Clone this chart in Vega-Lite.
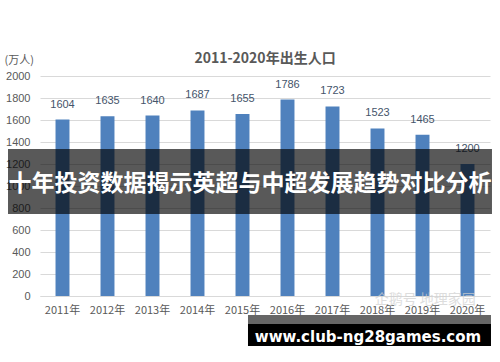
{
  "$schema": "https://vega.github.io/schema/vega-lite/v6.json",
  "width": 450,
  "height": 220,
  "autosize": "none",
  "padding": {"left": 40, "top": 76, "right": 10, "bottom": 66},
  "background": "white",
  "config": {"view": {"stroke": null}, "font": "Noto Sans CJK SC"},
  "title": {"text": "2011-2020年出生人口", "fontSize": 14, "fontWeight": "bold", "color": "#595959", "offset": -12, "font": "Noto Sans CJK SC"},
  "datasets": {
    "births": [
      {"year": "2011年", "value": 1604},
      {"year": "2012年", "value": 1635},
      {"year": "2013年", "value": 1640},
      {"year": "2014年", "value": 1687},
      {"year": "2015年", "value": 1655},
      {"year": "2016年", "value": 1786},
      {"year": "2017年", "value": 1723},
      {"year": "2018年", "value": 1523},
      {"year": "2019年", "value": 1465},
      {"year": "2020年", "value": 1200}
    ],
    "boxes": [
      {"name": "banner", "x1": -0.711, "x2": 10.044, "y1": 1336, "y2": 745, "color": "#000000", "op": 0.65},
      {"name": "urlstrip", "x1": 4.622, "x2": 10.022, "y1": -173, "y2": -255, "color": "#666666", "op": 1},
      {"name": "urlbox", "x1": 4.622, "x2": 10.022, "y1": -255, "y2": -455, "color": "#000000", "op": 1}
    ],
    "texts": [
      {"label": "十年投资数据揭示英超与中超发展趋势对比分析", "x": 4.667, "y": 1018, "kind": "banner"},
      {"label": "www.club-ng28games.com", "x": 7.289, "y": -373, "kind": "url"}
    ],
    "marks": [
      {"label": "企鹅号 地理家园", "x": 8.56, "y": -36}
    ]
  },
  "layer": [
    {
      "data": {"name": "births"},
      "encoding": {
        "x": {"field": "year", "type": "nominal", "sort": null,
          "scale": {"paddingInner": 0.69, "paddingOuter": 0.345},
          "axis": {"title": null, "labelAngle": 0, "labelColor": "#595959", "labelFontSize": 11, "labelPadding": 8, "ticks": false, "domainColor": "#d9d9d9", "labelFont": "Noto Sans CJK SC"}},
        "y": {"field": "value", "type": "quantitative",
          "scale": {"domain": [0, 2000], "nice": false},
          "axis": {"values": [0, 200, 400, 600, 800, 1000, 1200, 1400, 1600, 1800, 2000], "format": "d", "labelOverlap": false, "domain": false, "ticks": false, "gridColor": "#d9d9d9", "labelColor": "#595959", "labelFontSize": 11, "labelPadding": 10, "labelFont": "Liberation Sans",
            "title": "(万人)", "titleAngle": 0, "titleAlign": "left", "titleBaseline": "middle", "titleX": -36, "titleY": -16, "titleFontWeight": "normal", "titleColor": "#595959", "titleFontSize": 11}}
      },
      "layer": [
        {"mark": {"type": "bar", "color": "#4f81bd"}},
        {"mark": {"type": "text", "dy": -10, "color": "#44546a", "fontSize": 11, "baseline": "bottom", "font": "Liberation Sans"}, "encoding": {"text": {"field": "value"}}}
      ]
    },
    {
      "encoding": {
        "y": {"field": "y", "type": "quantitative",
          "axis": {"values": [0, 200, 400, 600, 800, 1000, 1200, 1400, 1600, 1800, 2000], "format": "d", "labelOverlap": false, "domain": false, "ticks": false, "gridColor": "#d9d9d9", "labelColor": "#595959", "labelFontSize": 11, "labelPadding": 10, "labelFont": "Liberation Sans",
            "title": "(万人)", "titleAngle": 0, "titleAlign": "left", "titleBaseline": "middle", "titleX": -36, "titleY": -16, "titleFontWeight": "normal", "titleColor": "#595959", "titleFontSize": 11}}
      },
      "layer": [
        {
          "data": {"name": "boxes"},
          "mark": {"type": "rect"},
          "encoding": {
            "x": {"field": "x1", "type": "quantitative", "scale": {"domain": [0, 10], "nice": false, "zero": false}, "axis": null},
            "x2": {"field": "x2"},
            "y": {"field": "y1", "type": "quantitative",
              "axis": {"values": [0, 200, 400, 600, 800, 1000, 1200, 1400, 1600, 1800, 2000], "format": "d", "labelOverlap": false, "domain": false, "ticks": false, "gridColor": "#d9d9d9", "labelColor": "#595959", "labelFontSize": 11, "labelPadding": 10, "labelFont": "Liberation Sans",
                "title": "(万人)", "titleAngle": 0, "titleAlign": "left", "titleBaseline": "middle", "titleX": -36, "titleY": -16, "titleFontWeight": "normal", "titleColor": "#595959", "titleFontSize": 11}},
            "y2": {"field": "y2"},
            "color": {"field": "color", "type": "nominal", "scale": null, "legend": null},
            "opacity": {"field": "op", "type": "quantitative", "scale": null, "legend": null}
          }
        },
        {
          "data": {"name": "marks"},
          "mark": {"type": "text", "color": "#d0d0d0", "fontSize": 14, "opacity": 0.7},
          "encoding": {
            "x": {"field": "x", "type": "quantitative"},
            "text": {"field": "label"}
          }
        },
        {
          "data": {"name": "texts"},
          "transform": [{"filter": "datum.kind === 'banner'"}],
          "mark": {"type": "text", "color": "white", "fontSize": 23, "fontWeight": "bold", "font": "Noto Sans CJK SC"},
          "encoding": {
            "x": {"field": "x", "type": "quantitative"},
            "text": {"field": "label"}
          }
        },
        {
          "data": {"name": "texts"},
          "transform": [{"filter": "datum.kind === 'url'"}],
          "mark": {"type": "text", "color": "white", "fontSize": 15, "fontWeight": "bold", "font": "DejaVu Sans"},
          "encoding": {
            "x": {"field": "x", "type": "quantitative"},
            "text": {"field": "label"}
          }
        }
      ]
    }
  ],
  "resolve": {"scale": {"x": "independent"}}
}
